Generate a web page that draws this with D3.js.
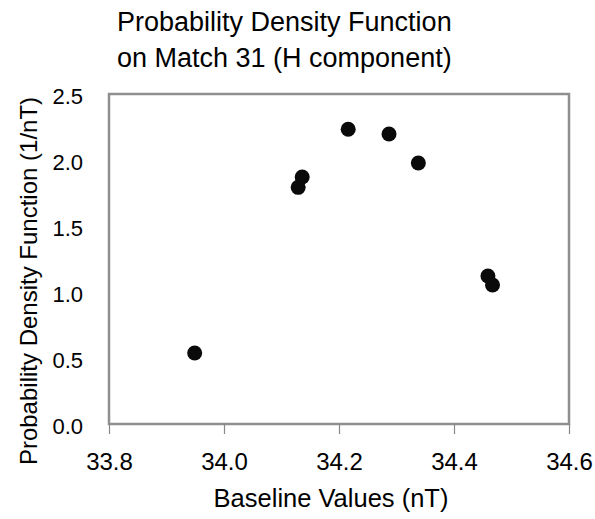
<!DOCTYPE html>
<html>
<head>
<meta charset="utf-8">
<script src="https://cdn.jsdelivr.net/npm/d3@7"></script>
<style>
  body { margin: 0; background: #fff; }
  text { font-family: Arial, "Liberation Sans", sans-serif; fill: #000; }
</style>
</head>
<body>
<svg id="chart" width="595" height="519"></svg>
<script>
const titleLines = ["Probability Density Function", "on Match 31 (H component)"];
const xLabel = "Baseline Values (nT)";
const yLabel = "Probability Density Function (1/nT)";
const baselineValues = [33.949, 34.129, 34.136, 34.216, 34.287, 34.338, 34.459, 34.467];
const pdfValues      = [0.538, 1.793, 1.871, 2.233, 2.197, 1.977, 1.121, 1.053];
const xTicks = [33.8, 34.0, 34.2, 34.4, 34.6];
const yTicks = [0.0, 0.5, 1.0, 1.5, 2.0, 2.5];

const svg = d3.select("#chart");
const L = 109, R = 569, T = 94, B = 424;

const x = d3.scaleLinear().domain([33.8, 34.6]).range([L, R]);
const y = d3.scaleLinear().domain([0, 2.5]).range([B, T]);

// title
svg.selectAll("text.title").data(titleLines).join("text")
  .attr("class", "title")
  .attr("x", 117).attr("y", (d, i) => 31 + i * 36)
  .attr("text-anchor", "start")
  .style("font-size", "27px")
  .text(d => d);

// frame
svg.append("rect")
  .attr("x", L).attr("y", T).attr("width", R - L).attr("height", B - T)
  .attr("fill", "none").attr("stroke", "#8f8f8f").attr("stroke-width", 2.5);

// x axis
const xAxis = d3.axisBottom(x).tickValues(xTicks).tickFormat(d3.format(".1f")).tickSize(10).tickPadding(19);
const gx = svg.append("g").attr("transform", `translate(0,${B})`).call(xAxis);
gx.select(".domain").remove();
gx.selectAll(".tick line").attr("stroke", "#888").attr("stroke-width", 1.2);
gx.selectAll(".tick text").style("font-size", "24px").attr("fill", "#000")
  .attr("font-family", "Arial, 'Liberation Sans', sans-serif");

// y axis
const yAxis = d3.axisLeft(y).tickValues(yTicks).tickFormat(d3.format(".1f")).tickSize(0).tickPadding(26);
const gy = svg.append("g").attr("transform", `translate(${L},0)`).call(yAxis);
gy.select(".domain").remove();
gy.selectAll(".tick text").style("font-size", "22px").attr("fill", "#000")
  .attr("dy", "0.45em")
  .attr("font-family", "Arial, 'Liberation Sans', sans-serif");

// axis labels
svg.append("text")
  .attr("x", 331).attr("y", 507)
  .attr("text-anchor", "middle")
  .style("font-size", "25.5px")
  .text(xLabel);

svg.append("text")
  .attr("transform", "translate(37,281) rotate(-90)")
  .attr("text-anchor", "middle")
  .style("font-size", "24px")
  .text(yLabel);

// points
svg.append("g").selectAll("circle")
  .data(baselineValues.map((v, i) => [v, pdfValues[i]]))
  .join("circle")
  .attr("cx", d => x(d[0]))
  .attr("cy", d => y(d[1]))
  .attr("r", 7.5)
  .attr("fill", "#0a0a0a");
</script>
</body>
</html>
